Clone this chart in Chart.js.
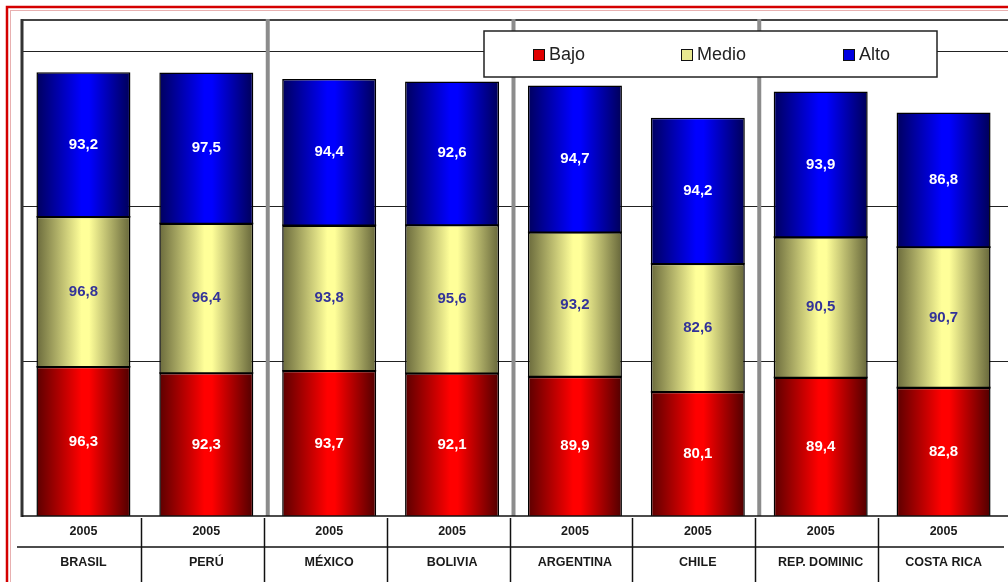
<!DOCTYPE html>
<html>
<head>
<meta charset="utf-8">
<script src="https://cdn.jsdelivr.net/npm/chart.js@4.4.1/dist/chart.umd.min.js"></script>
<style>
  html, body { margin: 0; padding: 0; background: #fff; }
  #wrap { width: 1008px; height: 582px; }
</style>
</head>
<body>
<div id="wrap"><canvas id="chart" width="1008" height="582"></canvas></div>
<script>
// Nivel socioeconómico por país (2005)
const countries = ["BRASIL", "PERÚ", "MÉXICO", "BOLIVIA", "ARGENTINA", "CHILE", "REP. DOMINIC", "COSTA RICA"];
const years = ["2005", "2005", "2005", "2005", "2005", "2005", "2005", "2005"];
const bajo  = [96.3, 92.3, 93.7, 92.1, 89.9, 80.1, 89.4, 82.8];
const medio = [96.8, 96.4, 93.8, 95.6, 93.2, 82.6, 90.5, 90.7];
const alto  = [93.2, 97.5, 94.4, 92.6, 94.7, 94.2, 93.9, 86.8];
const gridValues = [100, 200, 300];
const groupBreaks = [2, 4, 6];

const barPct = 0.765;
const FONT = "'Liberation Sans', Arial, sans-serif";

// cylinder-like horizontal shading for each bar
function shade(dark, light, darkRight) {
  return (c) => {
    const chart = c.chart;
    const xs = chart.scales && chart.scales.x;
    if (!chart.chartArea || !xs || c.dataIndex === undefined) return light;
    const cx = xs.getPixelForValue(c.dataIndex);
    const half = chart.chartArea.width / countries.length * barPct / 2;
    const g = chart.ctx.createLinearGradient(cx - half, 0, cx + half, 0);
    g.addColorStop(0, dark);
    g.addColorStop(0.48, light);
    g.addColorStop(0.56, light);
    g.addColorStop(1, darkRight);
    return g;
  };
}

const fmt = v => v.toFixed(1).replace(".", ",");

const frame = {
  id: "frame",
  beforeDatasetsDraw(chart) {
    const { ctx, chartArea: a, scales: { x, y } } = chart;
    ctx.save();
    // top border of plot
    ctx.strokeStyle = "#444";
    ctx.lineWidth = 2;
    ctx.beginPath(); ctx.moveTo(a.left, a.top); ctx.lineTo(chart.width, a.top); ctx.stroke();
    // horizontal grid
    ctx.strokeStyle = "#222";
    ctx.lineWidth = 1.2;
    gridValues.forEach(v => {
      const py = Math.round(y.getPixelForValue(v)) + 0.5;
      ctx.beginPath(); ctx.moveTo(a.left, py); ctx.lineTo(chart.width, py); ctx.stroke();
    });
    // thick gray group separators
    const step = a.width / countries.length;
    ctx.strokeStyle = "#8c8c8c";
    ctx.lineWidth = 4;
    groupBreaks.forEach(i => {
      const px = a.left + i * step;
      ctx.beginPath(); ctx.moveTo(px, a.top - 1); ctx.lineTo(px, a.bottom); ctx.stroke();
    });
    // left wall
    ctx.strokeStyle = "#333";
    ctx.lineWidth = 3;
    ctx.beginPath(); ctx.moveTo(a.left, a.top - 1); ctx.lineTo(a.left, a.bottom + 1); ctx.stroke();
    ctx.restore();
  },
  afterDatasetsDraw(chart) {
    const { ctx } = chart;
    const colors = ["#ffffff", "#333399", "#ffffff"];
    ctx.save();
    // dark seams between stacked segments
    ctx.strokeStyle = "#000";
    ctx.lineWidth = 1.6;
    chart.data.datasets.forEach((ds, di) => {
      if (di === chart.data.datasets.length - 1) return;
      chart.getDatasetMeta(di).data.forEach(el => {
        ctx.beginPath();
        ctx.moveTo(el.x - el.width / 2, el.y);
        ctx.lineTo(el.x + el.width / 2, el.y);
        ctx.stroke();
      });
    });
    ctx.font = "bold 15px " + FONT;
    ctx.textAlign = "center";
    ctx.textBaseline = "middle";
    chart.data.datasets.forEach((ds, di) => {
      chart.getDatasetMeta(di).data.forEach((el, j) => {
        ctx.fillStyle = colors[di];
        ctx.fillText(fmt(ds.data[j]), el.x, (el.y + el.base) / 2);
      });
    });
    ctx.restore();
  },
  afterDraw(chart) {
    const { ctx, chartArea: a, scales: { x } } = chart;
    const step = a.width / countries.length;
    ctx.save();
    // base line and category table
    ctx.strokeStyle = "#111";
    ctx.lineWidth = 1.5;
    ctx.beginPath(); ctx.moveTo(a.left, a.bottom); ctx.lineTo(chart.width, a.bottom); ctx.stroke();
    ctx.beginPath(); ctx.moveTo(17, 547); ctx.lineTo(chart.width - 4, 547); ctx.stroke();
    for (let i = 1; i < countries.length; i++) {
      const px = Math.round(a.left + i * step - 4) + 0.5;
      ctx.beginPath(); ctx.moveTo(px, a.bottom + 2); ctx.lineTo(px, chart.height); ctx.stroke();
    }
    ctx.fillStyle = "#1a1a1a";
    ctx.font = "bold 12.5px " + FONT;
    ctx.textAlign = "center";
    ctx.textBaseline = "middle";
    countries.forEach((c, i) => {
      const px = x.getPixelForValue(i);
      ctx.fillText(years[i], px, 532);
      ctx.fillText(c, px, 563);
    });

    // legend box
    ctx.fillStyle = "#fff";
    ctx.fillRect(484, 31, 453, 46);
    ctx.strokeStyle = "#222";
    ctx.lineWidth = 1.5;
    ctx.strokeRect(484, 31, 453, 46);
    const items = [
      { label: chart.data.datasets[0].label, color: "#e00000", x: 533 },
      { label: chart.data.datasets[1].label, color: "#e8e890", x: 681 },
      { label: chart.data.datasets[2].label, color: "#0000e0", x: 843 }
    ];
    ctx.font = "18px " + FONT;
    ctx.textAlign = "left";
    items.forEach(it => {
      ctx.fillStyle = it.color;
      ctx.fillRect(it.x, 49, 11, 11);
      ctx.strokeStyle = "#111";
      ctx.lineWidth = 1;
      ctx.strokeRect(it.x + 0.5, 49.5, 11, 11);
      ctx.fillStyle = "#222";
      ctx.fillText(it.label, it.x + 16, 55);
    });

    // outer red frame
    ctx.strokeStyle = "#d40000";
    ctx.lineWidth = 2.5;
    ctx.strokeRect(7, 7, chart.width + 20, chart.height + 20);
    ctx.strokeStyle = "#e8b0b0";
    ctx.lineWidth = 1;
    ctx.strokeRect(10.5, 10.5, chart.width + 20, chart.height + 20);
    ctx.restore();
  }
};

new Chart(document.getElementById("chart"), {
  type: "bar",
  data: {
    labels: countries,
    datasets: [
      { label: "Bajo",  data: bajo,  backgroundColor: shade("#5c0000", "#ff0000", "#500000") },
      { label: "Medio", data: medio, backgroundColor: shade("#6a6a3c", "#ffff99", "#66663a") },
      { label: "Alto",  data: alto,  backgroundColor: shade("#00005e", "#0000ff", "#000058") }
    ]
  },
  options: {
    responsive: false,
    animation: false,
    devicePixelRatio: 1,
    layout: { padding: { left: 22, top: 20, right: 3, bottom: 66 } },
    datasets: {
      bar: { categoryPercentage: 1, barPercentage: barPct, borderColor: "#000", borderWidth: 1.5 }
    },
    plugins: { legend: { display: false }, tooltip: { enabled: false } },
    scales: {
      x: { stacked: true, display: false },
      y: { stacked: true, display: false, min: 0, max: 320 }
    }
  },
  plugins: [frame]
});
</script>
</body>
</html>
